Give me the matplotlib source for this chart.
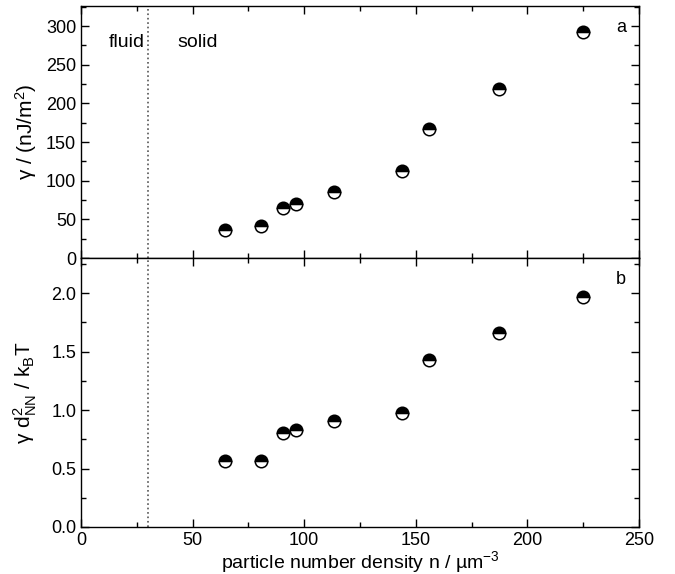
import numpy as np
import matplotlib.pyplot as plt

plt.rcParams['font.family'] = ['Liberation Sans', 'DejaVu Sans']
plt.rcParams['mathtext.fontset'] = 'custom'
plt.rcParams['mathtext.rm'] = 'Liberation Sans'
plt.rcParams['mathtext.it'] = 'Liberation Sans:italic'

# data
density = [64.5, 80.5, 90.5, 96.3, 113.3, 143.8, 156.0, 187.2, 224.8]
gamma = [36, 42, 65, 70, 86, 112, 167, 219, 293]
gamma_reduced = [0.56, 0.565, 0.80, 0.83, 0.91, 0.975, 1.43, 1.655, 1.965]
freezing_density = 30

fig = plt.figure(figsize=(6.75, 5.74), dpi=100)
ax_top = fig.add_axes([0.12, 0.5505, 0.8267, 0.439])
ax_bot = fig.add_axes([0.12, 0.0819, 0.8267, 0.4686])

marker_kw = dict(ls='none', marker='o', ms=9, fillstyle='top',
                 markerfacecolor='black', markerfacecoloralt='white',
                 markeredgecolor='black', markeredgewidth=1.1)

ax_top.plot(density, gamma, **marker_kw)
ax_bot.plot(density, gamma_reduced, **marker_kw)

for ax in (ax_top, ax_bot):
    ax.axvline(freezing_density, color='#555555', ls=':', lw=1.2)
    ax.set_xlim(0, 250)
    ax.set_xticks(np.arange(0, 251, 50))
    ax.set_xticks(np.arange(0, 251, 25), minor=True)
    ax.tick_params(which='both', direction='in', top=True, right=True,
                   labelsize=13, width=1)
    ax.tick_params(which='major', length=6)
    ax.tick_params(which='minor', length=3.5)
    for s in ax.spines.values():
        s.set_linewidth(1)

ax_top.set_ylim(0, 326)
ax_top.set_yticks(np.arange(0, 301, 50))
ax_top.set_yticks(np.arange(0, 326, 25), minor=True)
ax_top.tick_params(labelbottom=False)
ax_top.set_ylabel('γ / (nJ/m$^2$)', fontsize=15)
ax_top.yaxis.set_label_coords(-0.075, 0.5)
ax_top.text(20.5, 279, 'fluid', fontsize=14, ha='center', va='center')
ax_top.text(43, 279, 'solid', fontsize=14, ha='left', va='center')
ax_top.text(242, 298, 'a', fontsize=13, ha='center', va='center')

ax_bot.set_ylim(0, 2.3)
ax_bot.set_yticks(np.arange(0, 2.01, 0.5))
ax_bot.set_yticks(np.arange(0, 2.3, 0.25), minor=True)
ax_bot.yaxis.set_major_formatter(plt.FormatStrFormatter('%.1f'))
ax_bot.set_ylabel('γ d$^2_{\\rm NN}$ / k$_{\\rm B}$T', fontsize=15)
ax_bot.yaxis.set_label_coords(-0.075, 0.5)
ax_bot.text(242, 2.115, 'b', fontsize=13, ha='center', va='center')
ax_bot.set_xlabel('particle number density n / µm$^{-3}$', fontsize=14, labelpad=0)

fig.savefig('out.png', dpi=100)
